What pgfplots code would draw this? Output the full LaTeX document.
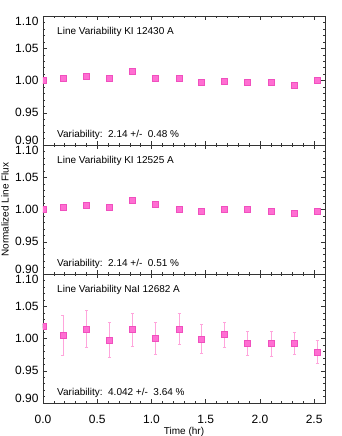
\documentclass[border=0pt]{standalone}
\usepackage{fontspec}
\setmainfont{Liberation Sans}
\usepackage{pgfplots}
\pgfplotsset{compat=1.18}
\usepgfplotslibrary{groupplots}

\definecolor{mk}{RGB}{255,110,210}
\definecolor{mkedge}{RGB}{240,80,190}
\definecolor{eb}{RGB}{255,165,220}

\pgfplotsset{
  panel/.style={
    xmin=0, xmax=2.6, ymin=0.9, ymax=1.1,
    xtick={0,0.5,...,2.5}, minor x tick num=4,
    ytick={0.90,0.95,1.00,1.05,1.10}, minor y tick num=4,
    yticklabels={\raisebox{4.5pt}[\height][\depth]{0.90},0.95,1.00,1.05,\raisebox{-5.5pt}[\height][\depth]{1.10}},
    tick align=inside, major tick length=4pt, minor tick length=2pt,
    tick style={black!80, line width=0.4pt},
    axis line style={black!80, line width=0.5pt},
    /pgf/number format/assume math mode=true,
    /pgf/number format/fixed, /pgf/number format/fixed zerofill,
    /pgf/number format/precision=1,
    yticklabel style={font=\fontsize{12}{14}\selectfont, xshift=-1pt},
    xticklabel style={font=\fontsize{12}{14}\selectfont, yshift=-9pt},
    clip mode=individual,
    clip marker paths=true,
  },
  pts/.style={only marks, mark=square*, mark size=3pt,
    mark options={fill=mk, draw=mkedge, line width=0.4pt}},
}

\pgfplotstableread{
t      f1     f2     f3     e3
0.000  1.000  1.000  1.019  0.000
0.184  1.004  1.004  1.005  0.031
0.402  1.006  1.006  1.015  0.029
0.613  1.003  1.004  0.998  0.027
0.825  1.015  1.015  1.014  0.026
1.037  1.004  1.008  1.000  0.025
1.255  1.004  1.0005 1.015  0.024
1.463  0.997  0.997  0.9995 0.022
1.675  0.9995 1.0005 1.006  0.020
1.887  0.998  1.0005 0.993  0.019
2.107  0.997  0.998  0.992  0.019
2.316  0.993  0.994  0.992  0.017
2.528  1.0005 0.998  0.979  0.018
}\lc

\begin{document}
\begin{tikzpicture}
\begin{groupplot}[
  group style={group size=1 by 3, vertical sep=0pt,
    xticklabels at=edge bottom},
  width=282pt, height=129pt, scale only axis, panel]
\nextgroupplot
\addplot[pts] table[x=t, y=f1] {\lc};
\node[anchor=west, font=\fontsize{10}{12}\selectfont] at (rel axis cs:0.038,0.876) {Line Variability KI 12430 A};
\node[anchor=west, font=\fontsize{10}{12}\selectfont] at (rel axis cs:0.038,0.078) {Variability:\ \ 2.14 +/-\ \ 0.48 \%};
\nextgroupplot
\addplot[pts] table[x=t, y=f2] {\lc};
\node[anchor=west, font=\fontsize{10}{12}\selectfont] at (rel axis cs:0.038,0.876) {Line Variability KI 12525 A};
\node[anchor=west, font=\fontsize{10}{12}\selectfont] at (rel axis cs:0.038,0.078) {Variability:\ \ 2.14 +/-\ \ 0.51 \%};
\node[rotate=90, font=\fontsize{10}{12}\selectfont, yshift=38pt] at (rel axis cs:0,0.5) {Normalized Line Flux};
\nextgroupplot
\addplot[only marks, mark=none, forget plot,
  error bars/.cd, y dir=both, y explicit,
  error bar style={eb, line width=0.6pt},
  error mark options={eb, rotate=90, mark size=1.5pt}]
  table[x=t, y=f3, y error=e3] {\lc};
\addplot[pts] table[x=t, y=f3] {\lc};
\node[anchor=west, font=\fontsize{10}{12}\selectfont] at (rel axis cs:0.038,0.876) {Line Variability NaI 12682 A};
\node[anchor=west, font=\fontsize{10}{12}\selectfont] at (rel axis cs:0.038,0.078) {Variability:\ \ 4.042 +/-\ \ 3.64 \%};
\node[font=\fontsize{10}{12}\selectfont, yshift=-29pt] at (rel axis cs:0.5,0) {Time (hr)};
\end{groupplot}
\pgfresetboundingbox
\path (group c1r3.south west) ++(-43pt,-33pt) rectangle ++(341pt,436pt);
\end{tikzpicture}
\end{document}
